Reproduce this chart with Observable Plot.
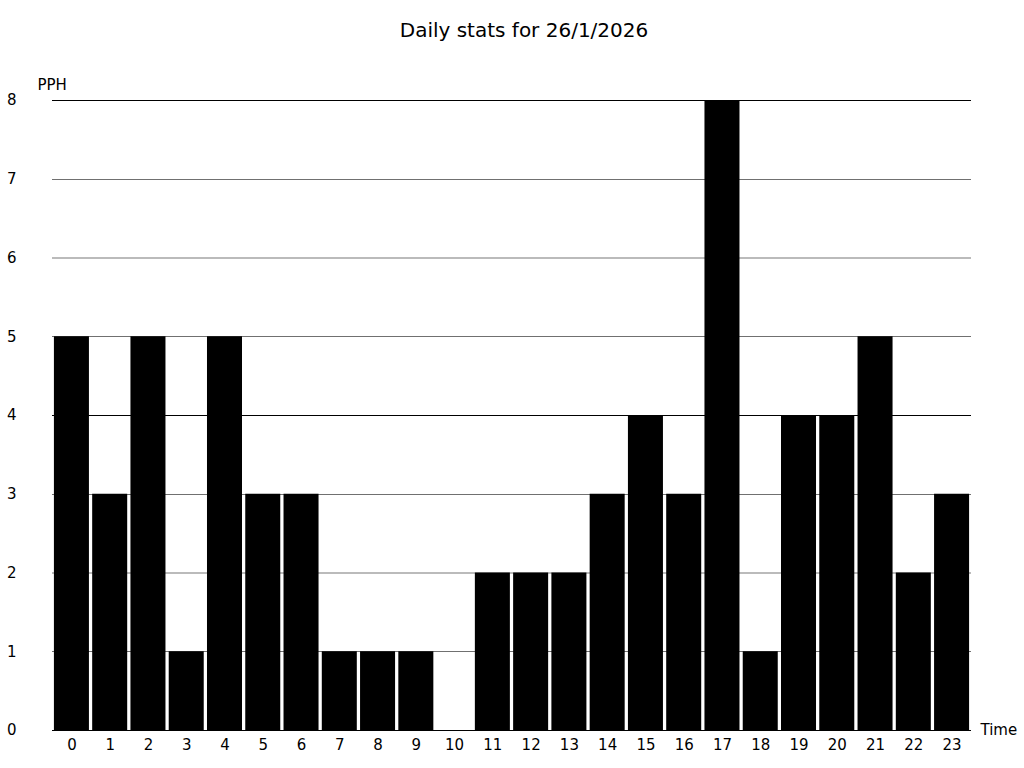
<!DOCTYPE html>
<html>
<head>
<meta charset="utf-8">
<script src="https://cdn.jsdelivr.net/npm/d3@7"></script>
<script src="https://cdn.jsdelivr.net/npm/@observablehq/plot@0.6"></script>
<style>
  body { margin: 0; background: #fff; font-family: "DejaVu Sans", sans-serif; }
  #title { height: 60px; width: 1024px; box-sizing: border-box; padding-left: 24px; text-align: center; font-size: 20px; line-height: 60px; color: #000; }
  svg { display: block; }
</style>
</head>
<body>
<div id="title">Daily stats for 26/1/2026</div>
<div id="chart"></div>
<script>
const hours = [0,1,2,3,4,5,6,7,8,9,10,11,12,13,14,15,16,17,18,19,20,21,22,23];
const pph   = [5,3,5,1,5,3,3,1,1,1,0,2,2,2,3,4,3,8,1,4,4,5,2,3];
const yTicks = [0,1,2,3,4,5,6,7,8];
const gridTone = ["#000", "#707070", "#bbbbbb", "#707070", "#000", "#707070", "#bbbbbb", "#707070"]; // for 8..1
const gridWidth = [1, 1, 2, 1, 1, 1, 2, 1];

const data = hours.map((h, i) => ({hour: h, value: pph[i]}));
const grid = [8,7,6,5,4,3,2,1].map((v, i) => ({v, c: gridTone[i], w: gridWidth[i]}));

const chart = Plot.plot({
  width: 1024,
  height: 708,
  marginLeft: 52,
  marginRight: 53,
  marginTop: 40,
  marginBottom: 38,
  style: {fontFamily: "DejaVu Sans, sans-serif", fontSize: "15px", color: "#000", background: "#fff"},
  x: {type: "band", domain: hours, paddingInner: 0.085, paddingOuter: 0.05, round: false, label: null, axis: null},
  y: {domain: [0, 8], label: null, axis: null},
  marks: [
    Plot.ruleY(grid, {y: "v", stroke: d => d.c, strokeWidth: d => d.w, shapeRendering: "crispEdges"}),
    Plot.barY(data, {x: "hour", y: "value", fill: "#000"}),
    Plot.ruleY([0], {stroke: "#000", strokeWidth: 1}),
    Plot.text(yTicks, {y: d => d, frameAnchor: "left", dx: -36, textAnchor: "end", lineAnchor: "middle", fontSize: 15, fill: "#000", text: d => String(d)}),
    Plot.text(hours, {x: d => d, frameAnchor: "bottom", dy: 15, textAnchor: "middle", lineAnchor: "middle", fontSize: 15, fill: "#000", text: d => String(d)}),
    Plot.text(["PPH"], {frameAnchor: "top-left", dx: -15, dy: -15, textAnchor: "start", lineAnchor: "middle", fontSize: 15}),
    Plot.text(["Time"], {frameAnchor: "bottom-right", dx: 9, dy: 0, textAnchor: "start", lineAnchor: "middle", fontSize: 15})
  ]
});
document.getElementById("chart").appendChild(chart);
</script>
</body>
</html>
